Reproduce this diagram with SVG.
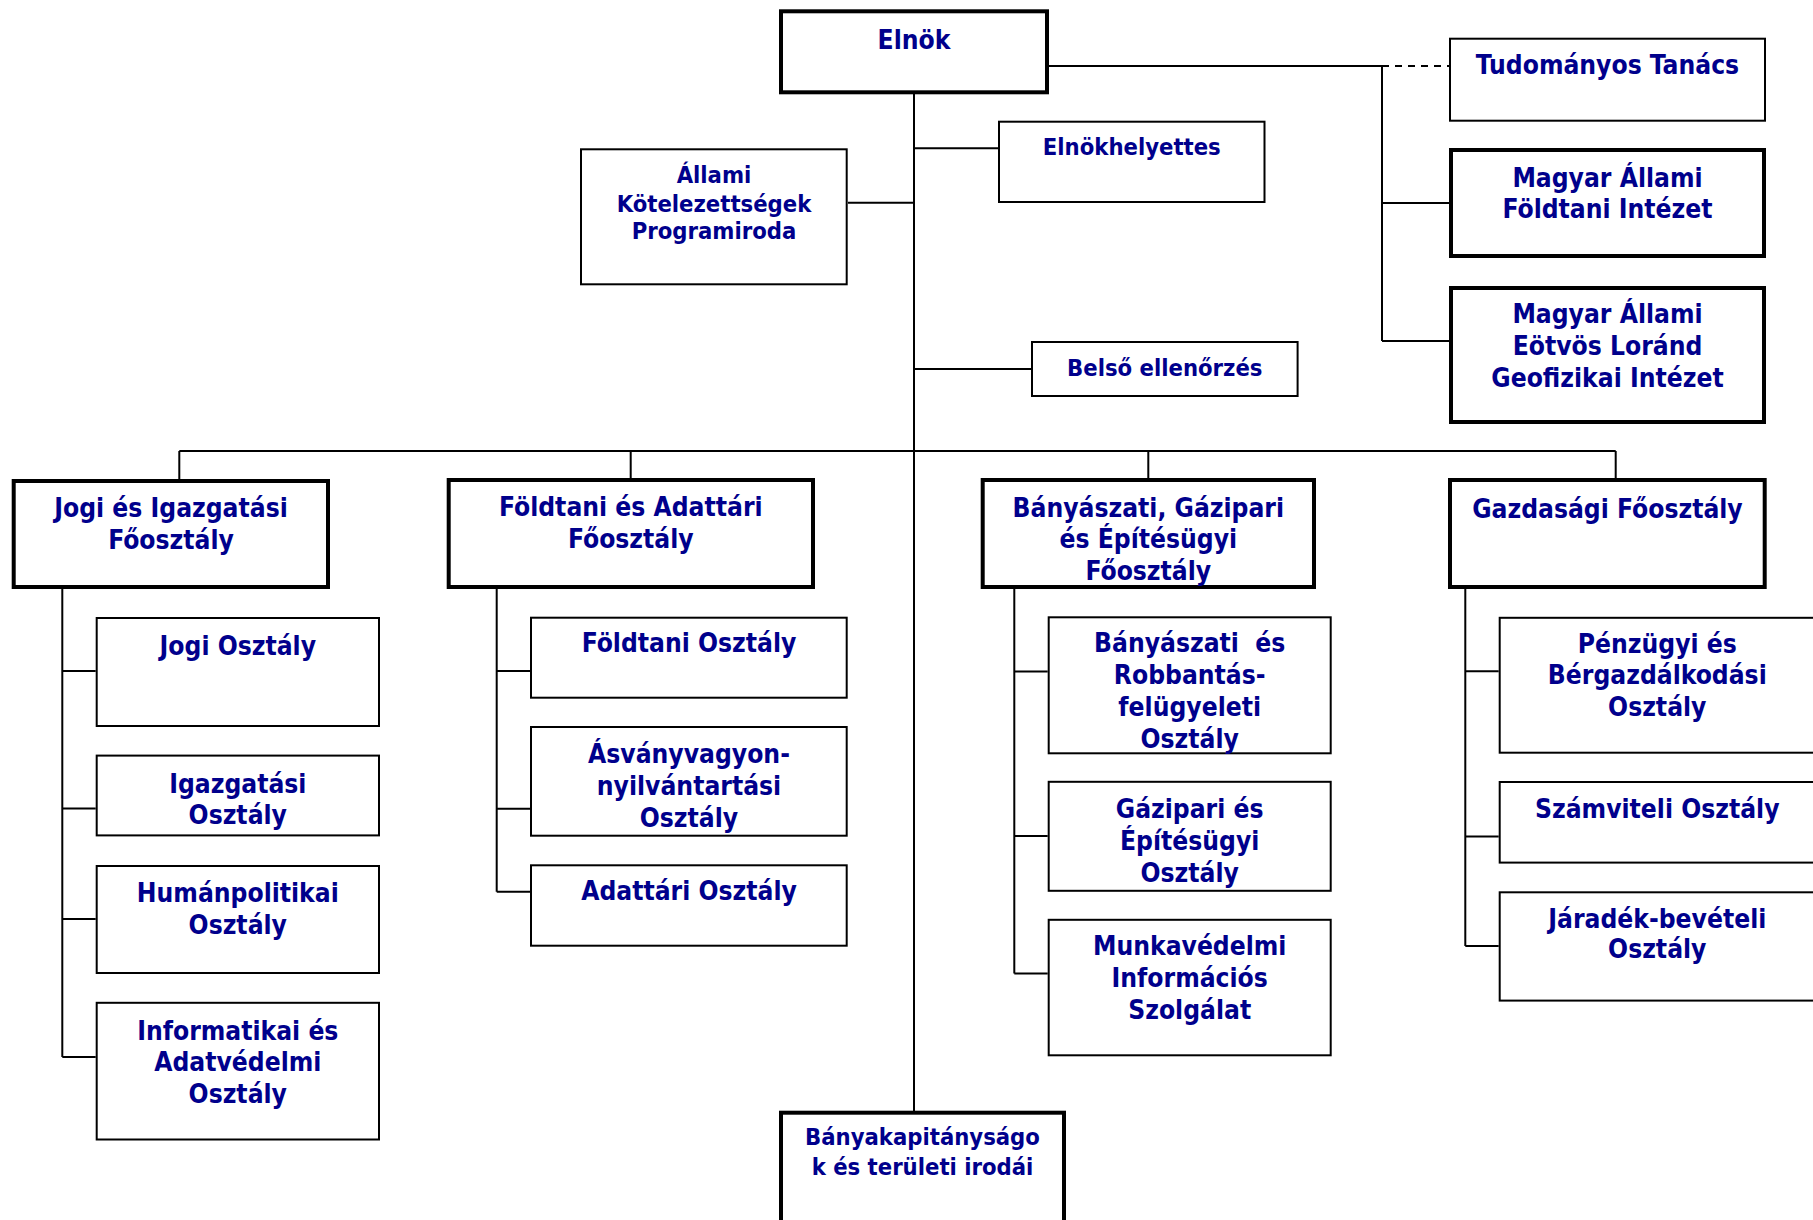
<svg xmlns="http://www.w3.org/2000/svg" width="1813" height="1220" viewBox="0 0 1813 1220">
<style>
.thin{fill:#fff;stroke:#000;stroke-width:2}
.thick{fill:#fff;stroke:#000;stroke-width:4}
.c{fill:none;stroke:#000;stroke-width:2}
.d{fill:none;stroke:#000;stroke-width:2;stroke-dasharray:7 6}
text{font-family:'DejaVu Sans Condensed','DejaVu Sans',sans-serif;font-stretch:condensed;font-weight:bold;font-size:26.2px;fill:#00008C;text-anchor:middle}
text.s{font-size:23.6px}
</style>
<rect width="1813" height="1220" fill="#fff"/>
<g id="connectors">
<path class="c" d="M914 94V1111M1049 66H1382M1382 66V341M1382 203H1449M1382 341H1449M914 148.3H998M848 202.7H914M914 369H1031"/>
<path class="d" d="M1382 66H1449"/>
<path class="c" d="M179.3 451H1615.7M179.3 451V479M630.7 451V478M1148.3 451V478M1615.7 451V478"/>
<path class="c" d="M62.3 589V1057M62.3 671H95.7M62.3 808.4H95.7M62.3 919H95.7M62.3 1057H95.7"/>
<path class="c" d="M496.7 589V891.7M496.7 671H530M496.7 808.7H530M496.7 891.7H530"/>
<path class="c" d="M1014.3 589V973.5M1014.3 671.4H1047.7M1014.3 836H1047.7M1014.3 973.5H1047.7"/>
<path class="c" d="M1465.3 589V946M1465.3 671.2H1498.7M1465.3 836.6H1498.7M1465.3 946H1498.7"/>
</g>
<g id="elnok"><rect class="thick" x="781" y="11.3" width="266" height="81"/><text x="914" y="49">Elnök</text></g>
<g id="tudomanyos"><rect class="thin" x="1450" y="38.7" width="315" height="82"/><text x="1607.5" y="74">Tudományos Tanács</text></g>
<g id="mafi"><rect class="thick" x="1451" y="150" width="313" height="106"/><text x="1607.5" y="186.7">Magyar Állami</text><text x="1607.5" y="218.3">Földtani Intézet</text></g>
<g id="elgi"><rect class="thick" x="1451" y="288" width="313" height="134"/><text x="1607.5" y="323.3">Magyar Állami</text><text x="1607.5" y="355">Eötvös Loránd</text><text x="1607.5" y="386.7">Geofizikai Intézet</text></g>
<g id="elnokhelyettes"><rect class="thin" x="999" y="121.7" width="265.5" height="80.3"/><text class="s" x="1131.8" y="155">Elnökhelyettes</text></g>
<g id="allami"><rect class="thin" x="581" y="149.3" width="265.7" height="135"/><text class="s" x="714" y="182.7">Állami</text><text class="s" x="714" y="211.7">Kötelezettségek</text><text class="s" x="714" y="239.3">Programiroda</text></g>
<g id="belso"><rect class="thin" x="1032" y="342" width="265.6" height="54"/><text class="s" x="1164.8" y="376">Belső ellenőrzés</text></g>
<g id="jogi-fo"><rect class="thick" x="13.7" y="481" width="314.3" height="106"/><text x="171" y="517">Jogi és Igazgatási</text><text x="171" y="549">Főosztály</text></g>
<g id="foldtani-fo"><rect class="thick" x="448.7" y="480" width="364.3" height="107"/><text x="630.8" y="516">Földtani és Adattári</text><text x="630.8" y="548">Főosztály</text></g>
<g id="banyaszati-fo"><rect class="thick" x="982.7" y="480" width="331.3" height="107"/><text x="1148.3" y="516.7">Bányászati, Gázipari</text><text x="1148.3" y="548">és Építésügyi</text><text x="1148.3" y="580">Főosztály</text></g>
<g id="gazdasagi-fo"><rect class="thick" x="1450" y="480" width="314.7" height="107"/><text x="1607.5" y="517.7">Gazdasági Főosztály</text></g>
<g id="jogi-o"><rect class="thin" x="96.7" y="618" width="282.3" height="108"/><text x="237.8" y="655">Jogi Osztály</text></g>
<g id="igazgatasi-o"><rect class="thin" x="96.7" y="755.6" width="282.3" height="79.8"/><text x="237.8" y="793">Igazgatási</text><text x="237.8" y="824">Osztály</text></g>
<g id="human-o"><rect class="thin" x="96.7" y="866" width="282.3" height="107"/><text x="237.8" y="901.6">Humánpolitikai</text><text x="237.8" y="933.8">Osztály</text></g>
<g id="informatikai-o"><rect class="thin" x="96.7" y="1002.8" width="282.3" height="136.7"/><text x="237.8" y="1039.5">Informatikai és</text><text x="237.8" y="1070.7">Adatvédelmi</text><text x="237.8" y="1102.8">Osztály</text></g>
<g id="foldtani-o"><rect class="thin" x="531" y="617.7" width="315.7" height="80"/><text x="689" y="652">Földtani Osztály</text></g>
<g id="asvany-o"><rect class="thin" x="531" y="727" width="315.7" height="108.7"/><text x="689" y="762.7">Ásványvagyon-</text><text x="689" y="795">nyilvántartási</text><text x="689" y="826.7">Osztály</text></g>
<g id="adattari-o"><rect class="thin" x="531" y="865.3" width="315.7" height="80.4"/><text x="689" y="900">Adattári Osztály</text></g>
<g id="robbantas-o"><rect class="thin" x="1048.7" y="617.3" width="282" height="136"/><text x="1189.7" y="652.2" xml:space="preserve">Bányászati  és</text><text x="1189.7" y="684">Robbantás-</text><text x="1189.7" y="716.3">felügyeleti</text><text x="1189.7" y="748.2">Osztály</text></g>
<g id="gazipari-o"><rect class="thin" x="1048.7" y="781.8" width="282" height="109"/><text x="1189.7" y="818.4">Gázipari és</text><text x="1189.7" y="850.2">Építésügyi</text><text x="1189.7" y="882">Osztály</text></g>
<g id="munkavedelmi"><rect class="thin" x="1048.7" y="919.8" width="282" height="135.5"/><text x="1189.7" y="955">Munkavédelmi</text><text x="1189.7" y="987">Információs</text><text x="1189.7" y="1018.8">Szolgálat</text></g>
<g id="penzugyi-o"><rect class="thin" x="1499.7" y="617.8" width="316" height="134.9"/><text x="1657.3" y="652.7">Pénzügyi és</text><text x="1657.3" y="684">Bérgazdálkodási</text><text x="1657.3" y="715.6">Osztály</text></g>
<g id="szamviteli-o"><rect class="thin" x="1499.7" y="782" width="316" height="80.6"/><text x="1657.3" y="818">Számviteli Osztály</text></g>
<g id="jaradek-o"><rect class="thin" x="1499.7" y="892.3" width="316" height="108.3"/><text x="1657.3" y="927.6">Járadék-bevételi</text><text x="1657.3" y="958">Osztály</text></g>
<g id="banyakapitanysag"><rect class="thick" x="781" y="1112.7" width="283" height="150"/><text class="s" x="922.5" y="1145">Bányakapitányságo</text><text class="s" x="922.5" y="1175">k és területi irodái</text></g>
</svg>
